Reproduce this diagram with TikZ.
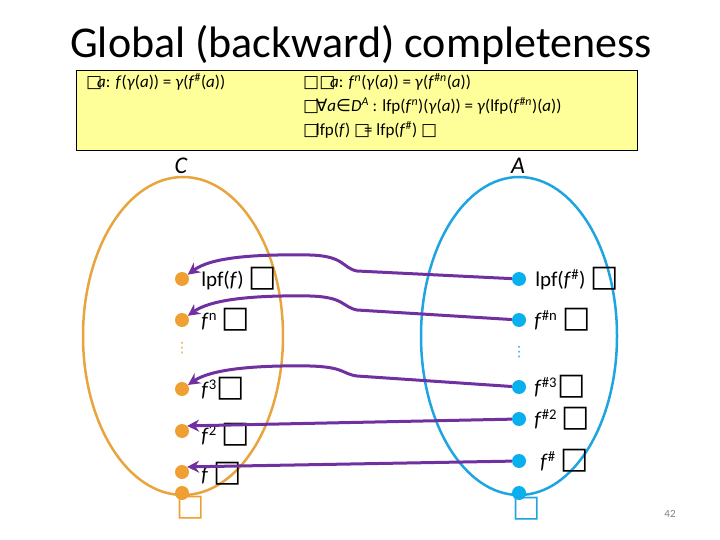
\documentclass[tikz,border=0pt]{standalone}
\usepackage{fontspec}
\setmainfont{Carlito}
\newfontfamily\symfont{DejaVu Sans}
\usetikzlibrary{positioning,arrows.meta}

\definecolor{slideyellow}{RGB}{255,255,153}
\definecolor{corange}{RGB}{232,165,62}
\definecolor{cdotorange}{RGB}{240,160,50}
\definecolor{ablue}{RGB}{30,164,224}
\definecolor{adotblue}{RGB}{10,176,238}
\definecolor{mappurple}{RGB}{112,48,160}

\newcommand{\bx}{{\symfont\char"25A1}}
\newcommand{\bigbx}{{\symfont\fontsize{30}{30}\selectfont\char"25A1}}
\newcommand{\mi}[1]{\textit{#1}}

\begin{document}
\begin{tikzpicture}[x=1pt, y=-1pt,
    cdot/.style={circle, fill=cdotorange, inner sep=0pt, minimum size=14pt},
    adot/.style={circle, fill=adotblue, inner sep=0pt, minimum size=14pt},
    maparrow/.style={draw=mappurple, line width=3pt, -{Stealth[length=12pt, width=12pt]}},
    lbl/.style={font=\fontsize{21}{25}\selectfont, inner sep=0pt},
    boxtext/.style={font=\fontsize{17}{20}\selectfont, inner sep=0pt, anchor=base west}]
        \useasboundingbox (0,0) rectangle (720,540);

        % Titel
        \node[font=\fontsize{44}{52}\selectfont, anchor=base] (title) at (361,58) {Global (backward) completeness};

        % gelbe Box mit den Bedingungen
        \node[draw, line width=0.8pt, fill=slideyellow, minimum width=561pt, minimum height=80pt, anchor=north west] (cond) at (76,70) {};
        \node[boxtext] (cond1) at (86,88) {\bx\kern-0.3em\mi{a}: \mi{f}(\mi{γ}(\mi{a})) = \mi{γ}(\mi{f}\textsuperscript{\#}(\mi{a}))};
        \node[boxtext] (cond2) at (303,88) {\bx\bx\kern-0.3em\mi{a}: \mi{f}\textsuperscript{\mi{n}}(\mi{γ}(\mi{a})) = \mi{γ}(\mi{f}\textsuperscript{\#\mi{n}}(\mi{a}))};
        \node[boxtext] (cond3) at (303,112) {\bx\kern-0.2em{\symfont\itshape ∀}\mi{a}{\symfont ∈}\mi{D}\textsuperscript{\mi{A}} : lfp(\mi{f}\textsuperscript{\mi{n}})(\mi{γ}(\mi{a})) = \mi{γ}(lfp(\mi{f}\textsuperscript{\#\mi{n}})(\mi{a}))};
        \node[boxtext] (cond4) at (303,136) {\bx\kern-0.2em lfp(\mi{f}) \bx\kern-0.35em= lfp(\mi{f}\textsuperscript{\#}) \bx};

        % die beiden Mengen
        \draw[corange, line width=2.5pt] (183,336) ellipse [x radius=100, y radius=159];
        \draw[ablue, line width=2.5pt] (519,336) ellipse [x radius=98, y radius=159];
        \node[font=\fontsize{24}{28}\selectfont\itshape, anchor=base] (setC) at (181,174) {C};
        \node[font=\fontsize{24}{28}\selectfont\itshape, anchor=base] (setA) at (518,174) {A};

        % Punkte in C
        \node[cdot] (c1) at (182,279) {};
        \node[cdot] (c2) at (182,320) {};
        \node[cdot] (c3) at (182,389) {};
        \node[cdot] (c4) at (182,431) {};
        \node[cdot] (c5) at (182,472) {};
        \node[cdot] (c0) at (182,493) {};
        \node[text=cdotorange, font=\symfont\fontsize{14}{14}\selectfont, inner sep=0pt] (cdots) at (182,348) {⋮};
        \node[text=cdotorange, inner sep=0pt] (cbot) at (191,508) {\bigbx};

        \node[lbl, right=12pt of c1] (lc1) {lpf(\mi{f}) \bigbx};
        \node[lbl, right=12pt of c2] (lc2) {\mi{f}\textsuperscript{n} \bigbx};
        \node[lbl, right=12pt of c3] (lc3) {\mi{f}\textsuperscript{3}\bigbx};
        \node[lbl, right=12pt of c4, yshift=-4pt] (lc4) {\mi{f}\textsuperscript{2} \bigbx};
        \node[lbl, right=12pt of c5, yshift=-2pt] (lc5) {\mi{f} \bigbx};

        % Punkte in A
        \node[adot] (a1) at (519,279) {};
        \node[adot] (a2) at (519,320) {};
        \node[adot] (a3) at (519,387) {};
        \node[adot] (a4) at (519,419) {};
        \node[adot] (a5) at (519,461) {};
        \node[adot] (a0) at (519,493) {};
        \node[text=adotblue, font=\symfont\fontsize{14}{14}\selectfont, inner sep=0pt] (adots) at (519,352) {⋮};
        \node[text=ablue, inner sep=0pt] (abot) at (527,509) {\bigbx};

        \node[lbl, right=9pt of a1] (la1) {lpf(\mi{f}\textsuperscript{\#}) \bigbx};
        \node[lbl, right=8pt of a2] (la2) {\mi{f}\textsuperscript{\#n} \bigbx};
        \node[lbl, right=8pt of a3] (la3) {\mi{f}\textsuperscript{\#3}\bigbx};
        \node[lbl, right=8pt of a4] (la4) {\mi{f}\textsuperscript{\#2} \bigbx};
        \node[lbl, right=14pt of a5] (la5) {\mi{f}\textsuperscript{\#} \bigbx};

        % Abbildungen von A nach C
        \draw[maparrow] (a1) -- (357,271) .. controls (342,268) and (345,256) .. (310,255) .. controls (250,254) and (210,258) .. (c1);
        \draw[maparrow] (a2) -- (357,310) .. controls (342,307) and (345,297) .. (310,296) .. controls (250,295) and (210,300) .. (c2);
        \draw[maparrow] (a3) -- (357,376) .. controls (342,374) and (345,367) .. (310,366) .. controls (250,365) and (210,370) .. (c3);
        \draw[maparrow] (a4) -- (c4.north east);
        \draw[maparrow] (a5) -- (c5.north east);

        % Seitenzahl
        \node[text=gray, font=\fontsize{11}{13}\selectfont] (page) at (670,514) {42};
\end{tikzpicture}
\end{document}
